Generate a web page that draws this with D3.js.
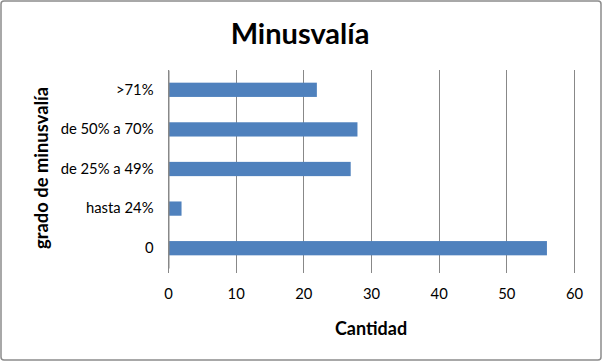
<!DOCTYPE html>
<html><head><meta charset="utf-8">
<script src="https://cdn.jsdelivr.net/npm/d3@7"></script>
<style>body{margin:0;background:#fff}svg{display:block}</style>
</head><body>
<script>
const categories = [">71%", "de 50% a 70%", "de 25% a 49%", "hasta 24%", "0"];
const values = [22, 28, 27, 2, 56];
const xTicks = [0, 10, 20, 30, 40, 50, 60];

const W = 602, H = 361;
const m = {left: 168, right: 28, top: 70, bottom: 93};
const svg = d3.select("body").append("svg").attr("width", W).attr("height", H);
svg.append("rect").attr("x", 1).attr("y", 1).attr("width", W - 2).attr("height", H - 2)
  .attr("rx", 3).attr("fill", "#fff").attr("stroke", "#8c8c8c").attr("stroke-width", 1.5);

const x = d3.scaleLinear().domain([0, 60]).range([m.left, W - m.right]);
const y = d3.scaleBand().domain(categories).range([m.top, H - m.bottom]).paddingInner(0.64).paddingOuter(0.32);
const font = "Lato, 'Open Sans', sans-serif";

// gridlines
svg.append("g").selectAll("line").data(xTicks).join("line")
  .attr("x1", d => Math.round(x(d)) + 0.5).attr("x2", d => Math.round(x(d)) + 0.5)
  .attr("y1", m.top).attr("y2", H - m.bottom + 5)
  .attr("stroke", "#888").attr("stroke-width", 1);

// bars
svg.append("g").selectAll("rect").data(categories).join("rect")
  .attr("x", x(0) + 1).attr("y", d => y(d))
  .attr("width", (d, i) => x(values[i]) - x(0) - 1).attr("height", y.bandwidth())
  .attr("fill", "#4F81BD");

// y axis
const yAxis = d3.axisLeft(y).tickSize(0).tickPadding(15);
const gy = svg.append("g").attr("transform", `translate(${Math.round(x(0)) + 0.5},0)`).call(yAxis);
gy.select(".domain").attr("stroke", "#888");
gy.selectAll("text").attr("font-family", font).attr("font-size", 14.8).attr("fill", "#000");

// x axis labels
const xAxis = d3.axisBottom(x).tickValues(xTicks).tickSize(0).tickPadding(20);
const gx = svg.append("g").attr("transform", `translate(0,${H - m.bottom})`).call(xAxis);
gx.select(".domain").remove();
gx.selectAll("text").attr("font-family", font).attr("font-size", 14.8).attr("fill", "#000");

// titles
svg.append("text").attr("x", 300).attr("y", 44).attr("text-anchor", "middle")
  .attr("font-family", font).attr("font-weight", "bold").attr("font-size", 29).text("Minusvalía");
svg.append("text").attr("x", 371).attr("y", 335).attr("text-anchor", "middle")
  .attr("font-family", font).attr("font-weight", "bold").attr("font-size", 18).text("Cantidad");
svg.append("text").attr("transform", "translate(48,168) rotate(-90)").attr("text-anchor", "middle")
  .attr("font-family", font).attr("font-weight", "bold").attr("font-size", 18.4).text("grado de minusvalía");
</script>
</body></html>
